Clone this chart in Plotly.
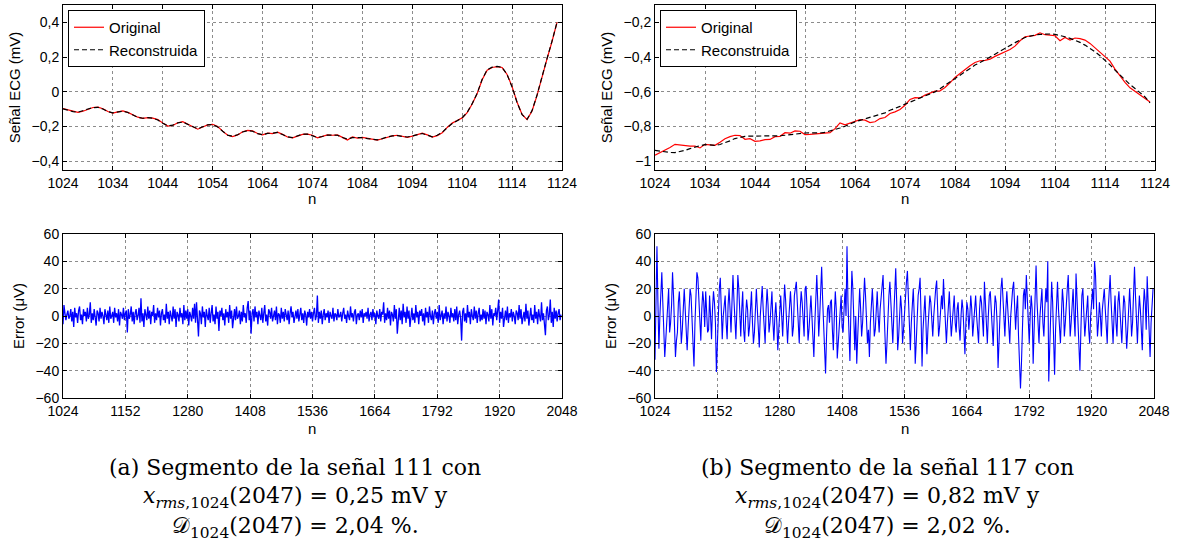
import plotly.graph_objects as go

# ---------------- data ----------------
n_start_top = 1024
orig_111 = [-0.096, -0.103, -0.112, -0.118, -0.112, -0.100, -0.090, -0.088, -0.097, -0.113,
            -0.122, -0.115, -0.110, -0.118, -0.133, -0.146, -0.153, -0.148, -0.151, -0.160,
            -0.180, -0.197, -0.194, -0.178, -0.172, -0.186, -0.204, -0.215, -0.202, -0.190,
            -0.187, -0.200, -0.226, -0.250, -0.258, -0.248, -0.230, -0.222, -0.225, -0.240,
            -0.248, -0.238, -0.240, -0.232, -0.245, -0.260, -0.265, -0.255, -0.245, -0.243,
            -0.250, -0.265, -0.258, -0.248, -0.250, -0.248, -0.262, -0.277, -0.260, -0.266,
            -0.262, -0.268, -0.273, -0.278, -0.270, -0.260, -0.254, -0.250, -0.258, -0.262,
            -0.255, -0.245, -0.238, -0.248, -0.260, -0.252, -0.235, -0.205, -0.180, -0.165,
            -0.150, -0.120, -0.070, -0.010, 0.070, 0.125, 0.140, 0.145, 0.140, 0.100,
            0.030, -0.060, -0.130, -0.160, -0.110, -0.020, 0.090, 0.190, 0.290, 0.400]
rec_111 = [-0.098, -0.106, -0.114, -0.117, -0.110, -0.099, -0.091, -0.089, -0.099, -0.114,
           -0.121, -0.116, -0.111, -0.119, -0.134, -0.147, -0.152, -0.149, -0.152, -0.162,
           -0.181, -0.195, -0.192, -0.179, -0.174, -0.187, -0.203, -0.213, -0.201, -0.190,
           -0.188, -0.202, -0.227, -0.249, -0.256, -0.247, -0.231, -0.223, -0.227, -0.241,
           -0.247, -0.239, -0.238, -0.234, -0.246, -0.259, -0.263, -0.254, -0.244, -0.244,
           -0.252, -0.263, -0.257, -0.249, -0.249, -0.250, -0.263, -0.272, -0.264, -0.263,
           -0.264, -0.269, -0.274, -0.276, -0.269, -0.259, -0.254, -0.252, -0.257, -0.260,
           -0.254, -0.246, -0.240, -0.249, -0.259, -0.250, -0.233, -0.206, -0.182, -0.166,
           -0.149, -0.118, -0.068, -0.008, 0.072, 0.127, 0.142, 0.147, 0.141, 0.099,
           0.028, -0.062, -0.131, -0.158, -0.108, -0.018, 0.092, 0.192, 0.292, 0.400]

orig_117 = [-0.965, -0.950, -0.937, -0.920, -0.902, -0.906, -0.912, -0.913, -0.912, -0.923,
            -0.902, -0.903, -0.908, -0.890, -0.870, -0.858, -0.850, -0.852, -0.873, -0.870,
            -0.885, -0.882, -0.875, -0.874, -0.858, -0.856, -0.835, -0.838, -0.825, -0.827,
            -0.846, -0.845, -0.843, -0.840, -0.837, -0.835, -0.812, -0.779, -0.790, -0.779,
            -0.767, -0.760, -0.763, -0.777, -0.772, -0.754, -0.748, -0.725, -0.715, -0.702,
            -0.677, -0.644, -0.633, -0.635, -0.619, -0.606, -0.596, -0.594, -0.575, -0.548,
            -0.517, -0.494, -0.471, -0.450, -0.431, -0.421, -0.419, -0.412, -0.396, -0.383,
            -0.373, -0.356, -0.337, -0.306, -0.283, -0.277, -0.275, -0.260, -0.271, -0.273,
            -0.277, -0.306, -0.287, -0.302, -0.290, -0.294, -0.302, -0.321, -0.346, -0.371,
            -0.394, -0.423, -0.469, -0.510, -0.546, -0.577, -0.596, -0.615, -0.638, -0.658]
rec_117 = [-0.937, -0.942, -0.946, -0.949, -0.950, -0.945, -0.937, -0.927, -0.917, -0.910,
           -0.904, -0.905, -0.908, -0.903, -0.894, -0.882, -0.869, -0.861, -0.856, -0.855,
           -0.855, -0.856, -0.856, -0.856, -0.855, -0.853, -0.850, -0.846, -0.843, -0.840,
           -0.837, -0.836, -0.837, -0.837, -0.833, -0.826, -0.817, -0.808, -0.798, -0.785,
           -0.773, -0.764, -0.756, -0.748, -0.740, -0.731, -0.721, -0.706, -0.697, -0.684,
           -0.671, -0.659, -0.648, -0.636, -0.623, -0.612, -0.600, -0.582, -0.562, -0.542,
           -0.523, -0.504, -0.485, -0.465, -0.446, -0.431, -0.417, -0.400, -0.383, -0.366,
           -0.350, -0.333, -0.317, -0.301, -0.287, -0.279, -0.273, -0.269, -0.267, -0.267,
           -0.269, -0.275, -0.283, -0.292, -0.302, -0.315, -0.331, -0.349, -0.369, -0.392,
           -0.417, -0.445, -0.475, -0.504, -0.533, -0.558, -0.581, -0.605, -0.629, -0.663]

# error signals (µV), one value every 2 samples from n = 1024
err_111 = [
    -6, 8, 2, -3, 1, 4, -2, 0, 5, -4, 3, -8, 6, -1, 2, -5,
    4, 7, -3, 1, -6, 5, 0, 3, -4, 6, -2, 1, 10, -5, 2, -3,
    5, -1, -7, 4, 2, -4, 6, -2, 3, 0, -6, 5, 1, -3, 4, -5,
    7, -2, 0, 3, -5, 6, -1, 2, -4, 5, -7, 3, 1, -2, 6, -3,
    2, 4, -12, 5, -2, 1, 7, -4, 3, -6, 2, 5, -3, 0, 6, -5,
    13, -4, 2, -8, 5, 1, -3, 7, -2, 4, -6, 3, 0, 8, -5, 2,
    -3, 6, -1, 4, -7, 2, 5, -3, 1, -5, 9, -2, 3, -6, 4, 0,
    -4, 7, -2, 5, -8, 3, 1, -4, 6, -1, 2, -6, 8, -3, 4, -2,
    5, -7, 3, 0, -4, 6, -2, 9, -5, 10, -3, -15, 4, 2, -6, 7,
    -1, 3, -8, 5, 0, -3, 6, -5, 2, 8, -4, 1, -6, 7, -2, 3,
    -11, 4, 0, 6, -3, 2, -7, 5, -1, 3, -5, 8, -2, 4, -9, 1,
    5, -3, 7, -2, 0, 4, -6, 3, -4, 8, -1, 2, -5, 6, 11, -3,
    4, -13, 2, 5, -4, 7, -1, 3, -6, 4, 0, -3, 6, -5, 2, 8,
    -4, 1, -7, 5, 3, -2, 6, -4, 0, 4, -3, 7, -6, 2, 1, -5,
    6, -2, 3, -4, 5, 0, -3, 4, -6, 2, 7, -1, 3, -5, 1, 4,
    -2, 5, -4, 0, 6, -3, 2, -5, 4, 1, -7, 3, -1, 5, -2, 3,
    -4, 2, 6, -3, 0, 15, -5, 3, -2, 4, -6, 1, 5, -3, 2, -1,
    4, -5, 3, 0, -2, 6, -4, 2, 1, -3, 5, -1, 0, 3, -4, 2,
    6, -2, 1, -5, 4, 0, -3, 7, -1, 2, -4, 3, 5, -6, 1, 2,
    -3, 4, -1, 5, -5, 2, 0, 3, -2, 6, -4, 1, 3, -3, 5, -1,
    2, -6, 4, 0, -2, 5, -4, 3, 1, 10, -5, 2, -3, 6, -2, 4,
    -7, 3, 1, -4, 8, -2, 5, -13, 2, 6, -3, 4, -6, 9, -1, 3,
    -5, 7, -2, 4, -8, 1, 6, -3, 2, -5, 8, -1, 3, -6, 4, 0,
    5, -4, 2, -7, 6, -1, 3, -5, 7, 0, -3, 4, -6, 2, 5, -2,
    3, -5, 8, -3, 1, 4, -6, 2, -2, 7, -4, 3, 0, -5, 6, -1,
    2, -4, 5, -3, 7, -6, 1, 4, -2, -18, 3, 6, -4, 2, -5, 8,
    -1, 3, -6, 5, 0, -3, 7, -2, 4, -5, 2, 6, -4, 1, -3, 5,
    -2, 4, -6, 3, 1, -4, 8, -2, 5, -7, 2, 0, 6, -3, 4, 12,
    -5, 3, -2, 6, -8, 1, 4, -3, 7, -5, 2, -1, 5, -4, 3, 0,
    -6, 4, 2, -3, 8, -2, 5, -6, 1, 3, -4, 9, -2, 4, -7, 2,
    6, -3, 1, -5, 8, -2, 3, -6, 5, 0, -4, 10, -3, 2, -6, -14,
    4, 7, -3, 1, 12, -5, 3, -8, 6, -2, 4, -4, 2, 5, -3, 1,
]
err_117 = [
    -32, 0, 51, 10, -24, 0, 18, 32, 10, -15, -30, -18, -5, 15, 20, -12,
    -5, 8, 32, 15, -10, -30, -18, -12, 10, 18, 0, -20, -10, 12, 20, 5,
    -15, -25, -8, 10, 20, 15, -5, -20, -37, -5, 15, 32, 28, 10, -10, -18,
    5, 18, 10, -8, 18, 5, -12, -10, 15, 0, -17, 5, 18, 10, -5, -41,
    -15, 10, 20, 28, 5, -17, 0, 10, 15, -5, -17, 8, 20, 5, -12, 10,
    30, 12, -8, -17, 5, 30, 20, -5, -15, 5, 18, -10, -19, 0, 12, 5,
    -15, -8, 10, 18, -5, -20, -12, 12, 20, 5, -15, -23, 0, 15, 22, 5,
    -10, -20, 5, 20, 8, -12, -5, 10, 18, -5, -18, 0, 10, -5, -25, -10,
    8, 15, 0, -15, 5, 23, 12, -8, -20, -5, 10, 18, 5, -15, -8, 15,
    20, 25, 10, -12, -20, 5, 18, 10, -5, -15, 20, 22, 5, -18, -10, 8,
    15, 0, -20, -30, -5, 15, 30, 10, -15, 0, 20, 36, 12, -5, -20, -42,
    -15, 5, 8, -5, 10, 12, -10, -25, 0, 18, 5, -31, -20, -5, 10, 15,
    -8, -12, 5, 20, 0, 51, 10, -20, -33, 5, 33, 20, -10, -25, 0, -35,
    -15, 10, 20, 5, -15, -5, 12, 28, 15, -5, -20, -10, -30, -5, 10, 20,
    5, -15, -10, 12, 18, 0, -12, 5, 15, 20, 30, 5, -15, -35, -20, 5,
    15, 25, 10, -10, -20, 0, 18, 35, 10, -25, -15, 5, 15, 5, -20, -10,
    5, 15, 25, 33, 10, -10, -25, -5, 10, 20, 0, -35, -20, 5, 15, 20,
    28, 0, -37, -10, 10, 15, -5, -28, -10, 5, 15, 10, -5, -15, 0, 15,
    20, 26, 5, -15, -8, 10, 15, 5, 27, 10, -10, -20, -5, 12, 18, 0,
    -15, -5, 10, 15, -5, -12, 5, 10, -8, -18, 0, 12, 5, -10, -28, -5,
    10, 5, -10, 0, 15, 5, -15, -5, 8, 15, 0, -12, -20, 5, 15, 10,
    -5, -15, 25, 10, -10, -20, 0, 15, 18, 5, -10, -22, 0, 15, 10, -5,
    -38, -15, 10, 20, 28, 10, -5, -15, 5, 18, 5, -10, -20, 0, 12, 20,
    25, 5, -10, 5, 15, -15, -30, -53, -35, 0, 15, 20, 5, 30, 10, -10,
    -20, 0, 15, 5, -35, -10, 20, 37, 10, -10, -20, 0, 15, 20, -5, -15,
    5, 20, 10, 40, -48, -20, 5, 25, 10, -20, -43, -10, 15, 25, 5, -10,
    -20, 0, 20, 10, -15, -5, 15, 20, 30, 5, -15, -5, 10, 20, 0, -15,
    31, 10, -10, -20, -40, -10, 15, 20, 5, -15, -5, 10, 15, -10, -20, 0,
    10, 20, 5, 40, 30, 5, -15, -5, 10, 0, -15, 5, 15, 20, 5, -15,
    -20, 5, 15, 30, 10, -10, -20, 0, 15, -5, -15, 10, 18, 5, -10, -20,
    0, 15, 10, -5, -24, -10, 10, 20, 5, -15, -5, 10, 36, 15, -10, -20,
    0, 15, 5, -15, -25, 5, 20, 10, -10, 29, 10, -15, -30, -5, 5, 20,
]

top_ticks = [1024, 1034, 1044, 1054, 1064, 1074, 1084, 1094, 1104, 1114, 1124]
bot_ticks = [1024, 1152, 1280, 1408, 1536, 1664, 1792, 1920, 2048]
y1_ticks = [-0.4, -0.2, 0, 0.2, 0.4]
y1_text = ["\u22120,4", "\u22120,2", "0", "0,2", "0,4"]
y2_ticks = [-1, -0.8, -0.6, -0.4, -0.2]
y2_text = ["\u22121", "\u22120,8", "\u22120,6", "\u22120,4", "\u22120,2"]
ye_ticks = [-60, -40, -20, 0, 20, 40, 60]
ye_text = ["\u221260", "\u221240", "\u221220", "0", "20", "40", "60"]

n_top = [n_start_top + i for i in range(len(orig_111))]
n_top2 = [n_start_top + i for i in range(len(orig_117))]
n_err1 = [1024 + 2 * i for i in range(len(err_111))]
n_err2 = [1024 + 2 * i for i in range(len(err_117))]

# ---------------- figure ----------------
W, H = 1179, 552
def px(x0, x1):
    return [x0 / W, x1 / W]
def py(top, bottom):
    return [(H - bottom) / H, (H - top) / H]

FONT = "Liberation Sans, Arial, Helvetica, sans-serif"
SERIF = "DejaVu Serif, Liberation Serif, serif"
FS = 14      # tick labels
FT = 15      # titles / legend

fig = go.Figure()
fig.add_trace(go.Scatter(x=n_top, y=orig_111, mode="lines", name="Original",
                         line=dict(color="#ff0000", width=1.2), xaxis="x", yaxis="y", legend="legend"))
fig.add_trace(go.Scatter(x=n_top, y=rec_111, mode="lines", name="Reconstruida",
                         line=dict(color="black", width=1.2, dash="5px,3px"), xaxis="x", yaxis="y", legend="legend"))
fig.add_trace(go.Scatter(x=n_top2, y=orig_117, mode="lines", name="Original",
                         line=dict(color="#ff0000", width=1.2), xaxis="x2", yaxis="y2", legend="legend2"))
fig.add_trace(go.Scatter(x=n_top2, y=rec_117, mode="lines", name="Reconstruida",
                         line=dict(color="black", width=1.2, dash="5px,3px"), xaxis="x2", yaxis="y2", legend="legend2"))
fig.add_trace(go.Scatter(x=n_err1, y=err_111, mode="lines", showlegend=False,
                         line=dict(color="#0000ff", width=1.3), xaxis="x3", yaxis="y3"))
fig.add_trace(go.Scatter(x=n_err2, y=err_117, mode="lines", showlegend=False,
                         line=dict(color="#0000ff", width=1.1), xaxis="x4", yaxis="y4"))

def axis(domain, rng, tickvals, ticktext, anchor, title=None):
    d = dict(domain=domain, range=rng, tickvals=tickvals, ticktext=ticktext, anchor=anchor,
             automargin=False,
             showline=True, linecolor="black", linewidth=1, mirror="ticks",
             ticks="inside", ticklen=4, tickcolor="black", tickwidth=1,
             showgrid=True, gridcolor="#8c8c8c", griddash="dot", gridwidth=1,
             zeroline=False, tickfont=dict(family=FONT, size=FS, color="black"))
    if title:
        d["title"] = dict(text=title, standoff=7, font=dict(family=FONT, size=FT, color="black"))
    return d

L_x = px(63, 562)
R_x = px(655, 1155)
T_y = py(5, 170)
B_y = py(234, 398)

fig.update_layout(
    width=W, height=H, margin=dict(l=0, r=0, t=0, b=0, autoexpand=False),
    paper_bgcolor="white", plot_bgcolor="white",
    font=dict(family=FONT, size=FS, color="black"),
    xaxis=axis(L_x, [1024, 1124], top_ticks, [str(v) for v in top_ticks], "y"),
    yaxis=axis(T_y, [-0.45, 0.5], y1_ticks, y1_text, "x", "Señal ECG (mV)"),
    xaxis2=axis(R_x, [1024, 1124], top_ticks, [str(v) for v in top_ticks], "y2"),
    yaxis2=axis(T_y, [-1.05, -0.1], y2_ticks, y2_text, "x2", "Señal ECG (mV)"),
    xaxis3=axis(L_x, [1024, 2048], bot_ticks, [str(v) for v in bot_ticks], "y3"),
    yaxis3=axis(B_y, [-60, 60], ye_ticks, ye_text, "x3", "Error (\u03bcV)"),
    xaxis4=axis(px(655, 1154), [1024, 2048], bot_ticks, [str(v) for v in bot_ticks], "y4"),
    yaxis4=axis(B_y, [-60, 60], ye_ticks, ye_text, "x4", "Error (\u03bcV)"),
    legend=dict(x=68 / W, y=(H - 10) / H, xanchor="left", yanchor="top",
                bgcolor="white", bordercolor="black", borderwidth=1,
                font=dict(family=FONT, size=FT, color="black"), tracegroupgap=0),
    legend2=dict(x=660 / W, y=(H - 10) / H, xanchor="left", yanchor="top",
                 bgcolor="white", bordercolor="black", borderwidth=1,
                 font=dict(family=FONT, size=FT, color="black"), tracegroupgap=0),
)

ann = []
def note(text, x, y, size=FT, family=FONT):
    ann.append(dict(text=text, x=x / W, y=(H - y) / H, xref="paper", yref="paper",
                    showarrow=False, xanchor="center", yanchor="middle",
                    font=dict(family=family, size=size, color="black")))

note("n", 312, 198)
note("n", 905, 198)
note("n", 312, 428)
note("n", 905, 428)

note("(a) Segmento de la señal 111 con", 295, 467, size=22, family=SERIF)
note("<i>x</i><sub><i>rms</i>,1024</sub>(2047) = 0,25 mV y", 295, 497, size=22, family=SERIF)
note("\U0001D49F<sub>1024</sub>(2047) = 2,04 %.", 295, 527, size=22, family=SERIF)
note("(b) Segmento de la señal 117 con", 887, 467, size=22, family=SERIF)
note("<i>x</i><sub><i>rms</i>,1024</sub>(2047) = 0,82 mV y", 887, 497, size=22, family=SERIF)
note("\U0001D49F<sub>1024</sub>(2047) = 2,02 %.", 887, 527, size=22, family=SERIF)

fig.update_layout(annotations=ann)
fig.write_html("out.html")
